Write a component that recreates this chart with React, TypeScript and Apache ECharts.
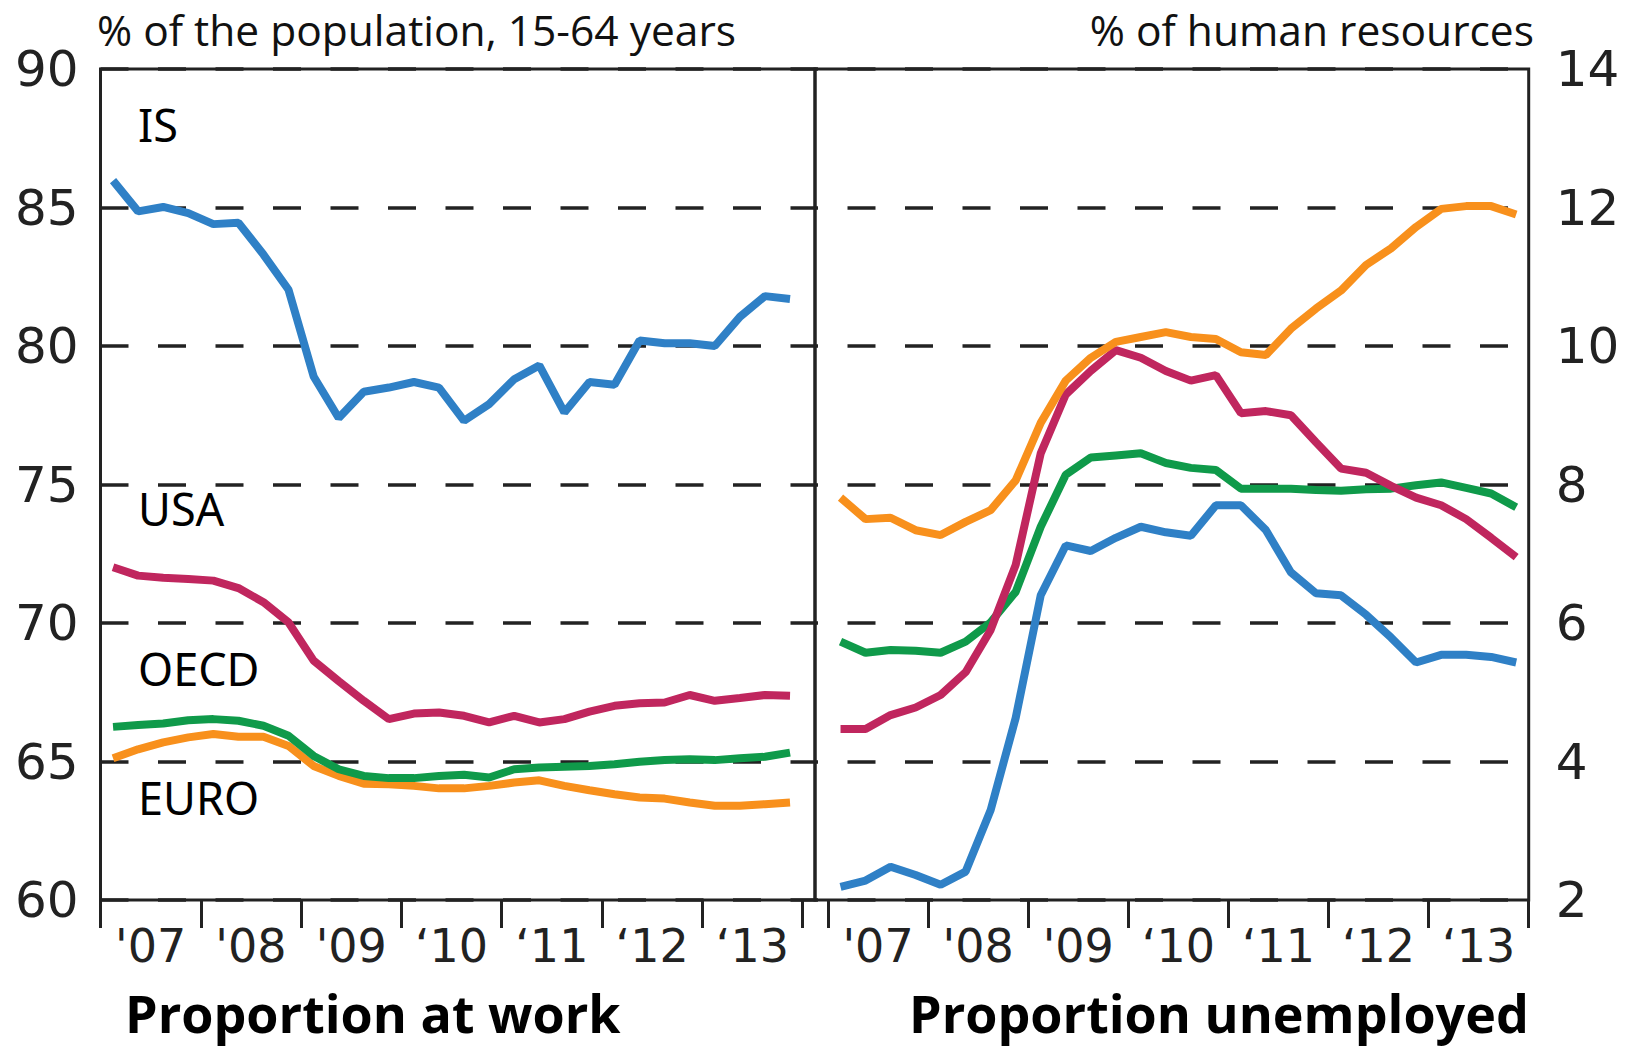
import React, { useEffect, useRef } from "react";
import * as echarts from "echarts";

// Year boundaries (ticks) and year labels
const years = [2007, 2008, 2009, 2010, 2011, 2012, 2013, 2014];
const yearLabels = ["'07", "'08", "'09", "‘10", "‘11", "‘12", "‘13"];

// Quarterly observations 2007Q1 .. 2013Q4
const quarters = years.slice(0, 7).flatMap((y) => [1, 2, 3, 4].map((q) => `${y}Q${q}`));

// Proportion at work (% of population 15-64)
const isWork = [85.97, 84.86, 85.02, 84.8, 84.4, 84.45, 83.3, 82.03, 78.9, 77.4, 78.35, 78.5, 78.7, 78.5, 77.3, 77.9, 78.8, 79.3, 77.6, 78.7, 78.6, 80.2, 80.1, 80.1, 80.0, 81.05, 81.8, 81.7];
const usaWork = [72.01, 71.71, 71.63, 71.59, 71.53, 71.26, 70.75, 70.02, 68.64, 67.9, 67.19, 66.53, 66.73, 66.77, 66.65, 66.41, 66.65, 66.41, 66.53, 66.8, 67.01, 67.1, 67.13, 67.4, 67.19, 67.29, 67.4, 67.37];
const oecdWork = [66.25, 66.32, 66.37, 66.49, 66.53, 66.47, 66.29, 65.93, 65.2, 64.72, 64.48, 64.4, 64.4, 64.48, 64.52, 64.42, 64.72, 64.78, 64.81, 64.84, 64.9, 64.99, 65.05, 65.08, 65.05, 65.12, 65.17, 65.32];
const euroWork = [65.12, 65.44, 65.69, 65.87, 65.99, 65.89, 65.89, 65.56, 64.84, 64.48, 64.2, 64.18, 64.12, 64.03, 64.03, 64.12, 64.24, 64.32, 64.12, 63.96, 63.82, 63.7, 63.66, 63.52, 63.4, 63.4, 63.46, 63.52];

// Proportion unemployed (% of human resources)
const isUnemp = [2.19, 2.28, 2.48, 2.36, 2.22, 2.41, 3.3, 4.63, 6.4, 7.12, 7.04, 7.23, 7.39, 7.31, 7.26, 7.7, 7.7, 7.34, 6.73, 6.43, 6.4, 6.12, 5.79, 5.43, 5.54, 5.54, 5.51, 5.43];
const usaUnemp = [4.47, 4.47, 4.67, 4.78, 4.96, 5.29, 5.9, 6.84, 8.45, 9.3, 9.64, 9.94, 9.83, 9.64, 9.5, 9.58, 9.03, 9.06, 9.0, 8.61, 8.23, 8.17, 7.98, 7.81, 7.7, 7.5, 7.23, 6.95];
const oecdUnemp = [5.73, 5.57, 5.61, 5.6, 5.57, 5.73, 6.01, 6.45, 7.39, 8.14, 8.39, 8.42, 8.45, 8.31, 8.24, 8.21, 7.94, 7.94, 7.94, 7.92, 7.91, 7.93, 7.94, 7.99, 8.03, 7.95, 7.87, 7.67];
const euroUnemp = [7.81, 7.5, 7.52, 7.34, 7.27, 7.46, 7.63, 8.06, 8.89, 9.5, 9.83, 10.06, 10.13, 10.2, 10.13, 10.1, 9.91, 9.87, 10.25, 10.54, 10.8, 11.17, 11.41, 11.72, 11.98, 12.02, 12.02, 11.9];

const COLORS = { IS: "#2f80c6", USA: "#c0265e", OECD: "#0f9a4a", EURO: "#f8901c" };

const quarterToX = (q: string) => {
  const [y, qq] = q.split("Q").map(Number);
  return y + (qq - 0.5) / 4;
};
const pairs = (vals: number[]) => quarters.map((q, i) => [quarterToX(q), vals[i]]);

const AXIS_COLOR = "#222";
const NUM_FONT = "DejaVu Sans";

export default function App() {
  const ref = useRef<HTMLDivElement>(null);
  useEffect(() => {
    if (!ref.current) return;
    const chart = echarts.init(ref.current, null, { renderer: "svg" });

    const xAxisCommon = (gridIndex: number, min: number, max: number) => ({
      type: "value",
      gridIndex,
      min,
      max,
      axisLine: { show: false },
      axisTick: {
        show: true,
        customValues: years,
        length: 28,
        lineStyle: { color: AXIS_COLOR, width: 3 },
      },
      axisLabel: {
        customValues: years.slice(0, 7).map((y) => y + 0.5),
        formatter: (v: number) => yearLabels[Math.floor(v) - 2007],
        fontSize: 46,
        lineHeight: 46,
        fontFamily: NUM_FONT,
        color: AXIS_COLOR,
        margin: 23,
      },
      splitLine: { show: false },
    });

    const lineSeries = (name: string, vals: number[], idx: number) => ({
      type: "line",
      name,
      xAxisIndex: idx,
      yAxisIndex: idx,
      data: pairs(vals),
      showSymbol: false,
      symbol: "none",
      lineStyle: { color: (COLORS as any)[name], width: 8 },
      z: 5,
    });

    const option: any = {
      animation: false,
      backgroundColor: "#ffffff",
      grid: [
        { left: 100.5, top: 69, width: 714.5, height: 831, show: true, borderColor: AXIS_COLOR, borderWidth: 3, backgroundColor: "transparent" },
        { left: 815, top: 69, width: 713.7, height: 831, show: true, borderColor: AXIS_COLOR, borderWidth: 3, backgroundColor: "transparent" },
      ],
      xAxis: [xAxisCommon(0, 2007, 2014.124), xAxisCommon(1, 2006.87, 2014)],
      yAxis: [
        {
          type: "value",
          gridIndex: 0,
          min: 60,
          max: 90,
          interval: 5,
          position: "left",
          axisLine: { show: false },
          axisTick: { show: false },
          axisLabel: { fontSize: 50, fontFamily: NUM_FONT, color: AXIS_COLOR, margin: 22, padding: [12, 0, 0, 0] },
          splitLine: { show: true, lineStyle: { type: [28, 29.5], color: AXIS_COLOR, width: 3.5 } },
        },
        {
          type: "value",
          gridIndex: 1,
          min: 2,
          max: 14,
          interval: 2,
          position: "right",
          axisLine: { show: false },
          axisTick: { show: false },
          axisLabel: { fontSize: 50, fontFamily: NUM_FONT, color: AXIS_COLOR, margin: 27, padding: [12, 0, 0, 0] },
          splitLine: { show: true, lineStyle: { type: [28, 29.5], dashOffset: 25, color: AXIS_COLOR, width: 3.5 } },
        },
      ],
      series: [
        lineSeries("EURO", euroWork, 0),
        lineSeries("OECD", oecdWork, 0),
        lineSeries("USA", usaWork, 0),
        lineSeries("IS", isWork, 0),
        lineSeries("IS", isUnemp, 1),
        lineSeries("OECD", oecdUnemp, 1),
        lineSeries("USA", usaUnemp, 1),
        lineSeries("EURO", euroUnemp, 1),
      ],
      graphic: [
        { type: "text", x: 97, y: 29, style: { text: "% of the population, 15-64 years", font: "42.5px 'Open Sans'", fill: "#111", verticalAlign: "middle" } },
        { type: "text", x: 1534, y: 29, style: { text: "% of human resources", font: "42.5px 'Open Sans'", fill: "#111", align: "right", verticalAlign: "middle" } },
        { type: "text", x: 138, y: 124, style: { text: "IS", font: "45px 'Noto Sans'", fill: "#000", verticalAlign: "middle" } },
        { type: "text", x: 138, y: 508, style: { text: "USA", font: "45px 'Noto Sans'", fill: "#000", verticalAlign: "middle" } },
        { type: "text", x: 138, y: 668, style: { text: "OECD", font: "45px 'Noto Sans'", fill: "#000", verticalAlign: "middle" } },
        { type: "text", x: 138, y: 797, style: { text: "EURO", font: "45px 'Noto Sans'", fill: "#000", verticalAlign: "middle" } },
        { type: "text", x: 125, y: 1012, style: { text: "Proportion at work", font: "bold 52px 'Open Sans'", lineHeight: 52, fill: "#000", verticalAlign: "middle" } },
        { type: "text", x: 909, y: 1012, style: { text: "Proportion unemployed", font: "bold 52px 'Open Sans'", lineHeight: 52, fill: "#000", verticalAlign: "middle" } },
      ],
    };
    chart.setOption(option);
    return () => chart.dispose();
  }, []);

  return (
    <div
      ref={ref}
      style={{ position: "absolute", left: 0, top: 0, width: 1631, height: 1048, background: "#fff" }}
    />
  );
}
